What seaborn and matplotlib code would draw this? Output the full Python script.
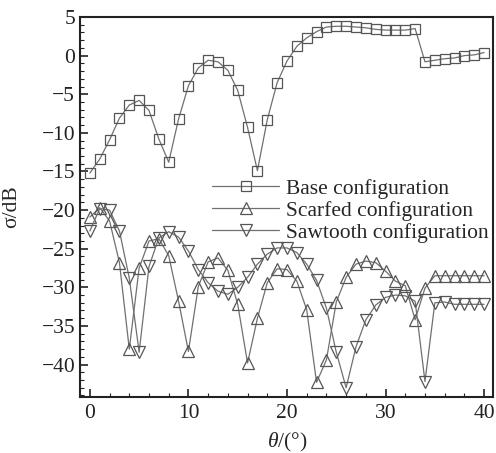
import numpy as np
import pandas as pd
import matplotlib
matplotlib.use("Agg")
import matplotlib.pyplot as plt
import seaborn as sns
from matplotlib.ticker import MultipleLocator

theta = list(range(0, 41))
base = [-15.2, -13.4, -10.9, -8.1, -6.4, -5.8, -7.1, -10.8, -13.8, -8.2,
        -3.9, -1.6, -0.6, -0.8, -1.9, -4.5, -9.3, -14.9, -8.3, -3.5,
        -0.7, 1.2, 2.3, 3.1, 3.7, 3.8, 3.8, 3.7, 3.6, 3.4,
        3.3, 3.3, 3.3, 3.5, -0.8, -0.6, -0.4, -0.3, 0.0, 0.1, 0.4]
scarfed = [-20.9, -19.7, -21.4, -26.8, -38.0, -27.5, -24.0, -23.7, -25.9, -31.8,
           -38.3, -29.9, -26.7, -26.2, -27.8, -32.2, -39.8, -34.0, -29.4, -27.6,
           -27.7, -29.2, -32.9, -42.3, -39.4, -31.9, -28.7, -27.0, -26.6, -26.8,
           -27.9, -29.2, -29.8, -34.2, -30.1, -28.5, -28.5, -28.5, -28.5, -28.5, -28.5]
sawtooth = [-22.7, -19.8, -20.0, -22.7, -28.8, -38.4, -27.3, -23.6, -22.8, -23.5,
            -25.3, -27.7, -29.4, -30.5, -30.9, -30.0, -28.7, -27.0, -25.7, -24.9,
            -24.9, -25.5, -27.0, -29.1, -32.7, -38.4, -43.0, -37.7, -34.2, -32.3,
            -31.3, -31.0, -31.1, -31.8, -42.2, -32.0, -31.9, -32.2, -32.2, -32.2, -32.2]
labels = ["Base configuration", "Scarfed configuration", "Sawtooth configuration"]
markers = ["s", "^", "v"]
msizes = [7.5, 8.5, 8.5]

sns.set_theme(style="white")
plt.rcParams["font.family"] = ["Liberation Serif", "DejaVu Serif"]
plt.rcParams["mathtext.fontset"] = "custom"
plt.rcParams["mathtext.it"] = "Liberation Serif:italic"
plt.rcParams["mathtext.rm"] = "Liberation Serif"

fig = plt.figure(figsize=(4.96, 4.53), dpi=100)
ax = fig.add_axes([80/496, 1-397/453, 413/496, 380/453])

for vals, lab, mk, ms in zip([base, scarfed, sawtooth], labels, markers, msizes):
    df = pd.DataFrame({"theta": theta, "sigma": vals})
    sns.lineplot(data=df, x="theta", y="sigma", ax=ax, label=lab,
                 color="#707070", linewidth=0.9, marker=mk, markersize=ms,
                 markerfacecolor="none", markeredgecolor="#555555",
                 markeredgewidth=0.9)

ax.set_xlim(-1.0, 40.9)
ax.set_ylim(-44.2, 5)
ax.xaxis.set_major_locator(MultipleLocator(10))
ax.xaxis.set_minor_locator(MultipleLocator(2))
ax.yaxis.set_major_locator(MultipleLocator(5))
ax.yaxis.set_minor_locator(MultipleLocator(1))
ax.tick_params(which="both", direction="in", top=False, right=False,
               left=True, bottom=True, colors="#222222", labelsize=15.5)
ax.tick_params(which="major", length=6, width=1.2)
ax.tick_params(which="minor", length=3, width=0.8)
ax.tick_params(axis="x", which="major", pad=5)
ax.set_yticks([5, 0, -5, -10, -15, -20, -25, -30, -35, -40])
ax.set_yticklabels(["5", "0", "\u22125", "\u221210", "\u221215", "\u221220",
                    "\u221225", "\u221230", "\u221235", "\u221240"])
for s in ax.spines.values():
    s.set_color("#222222")
    s.set_linewidth(1.5)

ax.set_xlabel(r"$\mathit{\theta}$/(°)", fontsize=15.5)
ax.xaxis.set_label_coords((287-80)/413, -(431-397)/380)
ax.set_ylabel("σ/dB", fontsize=15.5)
ax.yaxis.set_label_coords(-(80-21)/413, (397-207)/380)

ax.legend(loc="upper left", bbox_to_anchor=(0.32, 0.575), frameon=False,
          fontsize=15.5, handlelength=3.1, handletextpad=0.35,
          labelspacing=0.1, borderpad=0, borderaxespad=0)

fig.savefig("out.png", dpi=100)
